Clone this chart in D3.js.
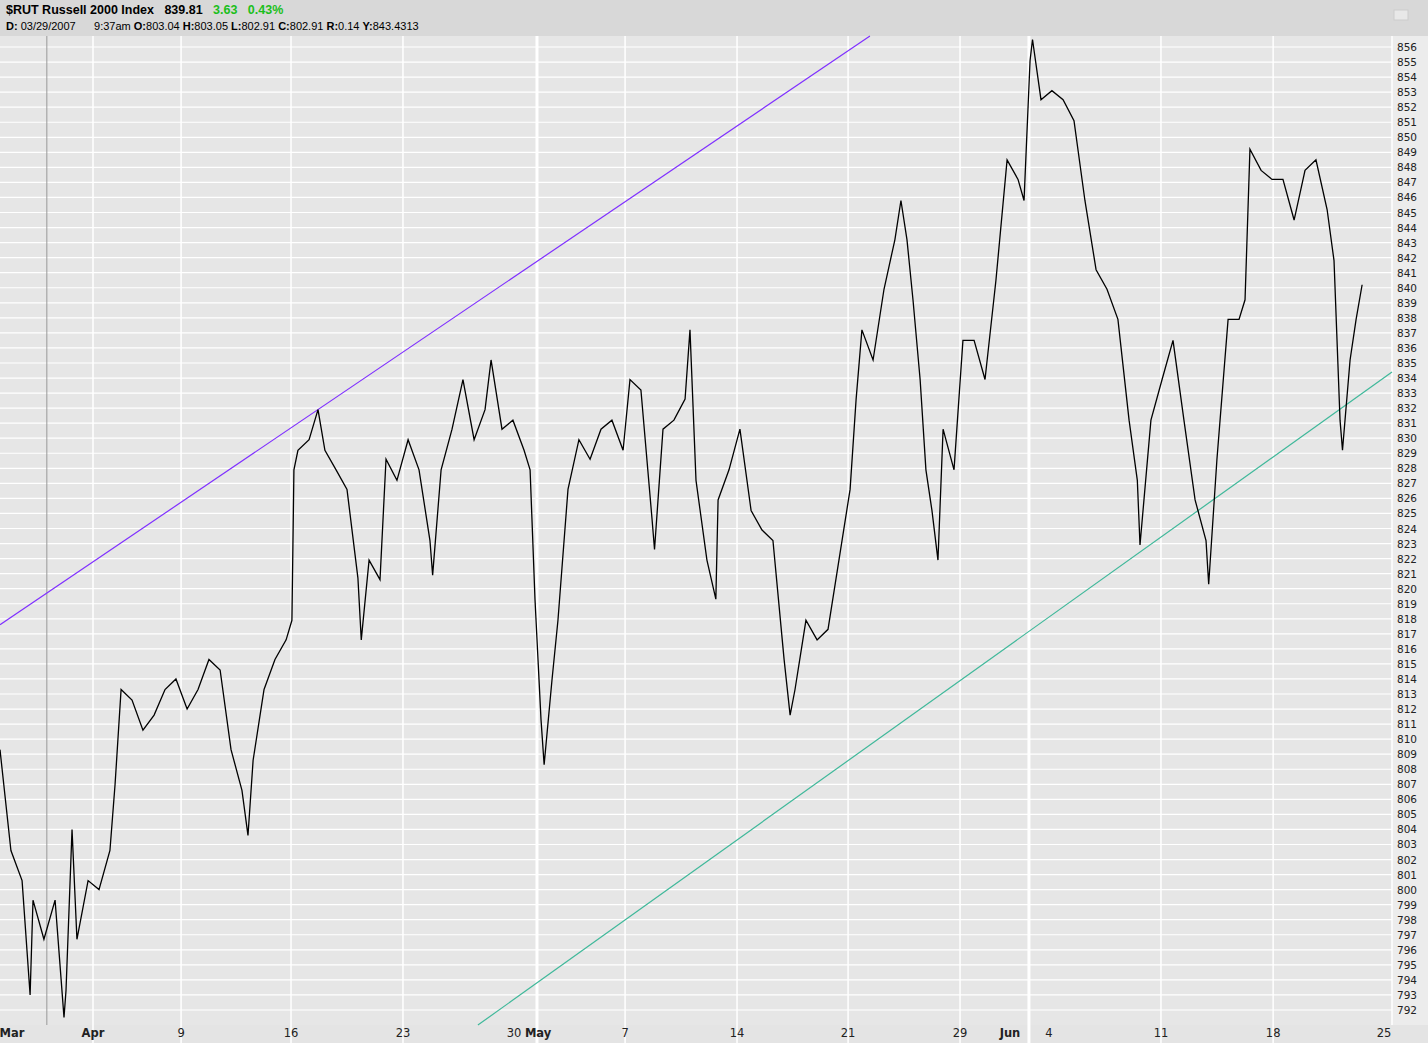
<!DOCTYPE html><html><head><meta charset="utf-8">
<script src="https://cdn.jsdelivr.net/npm/d3@7"></script>
<style>body{margin:0;background:#e6e6e6;font-family:"DejaVu Sans",Verdana,sans-serif}</style></head><body>
<svg id="c" width="1428" height="1043"></svg>
<script>
const days=[0,0.49,0.99,1.35,1.48,1.97,2.47,2.87,2.96,3.23,3.45,3.95,4.44,4.93,5.16,5.43,5.92,6.41,6.91,7.40,7.89,8.39,8.88,9.37,9.87,10.36,10.85,11.12,11.35,11.84,12.33,12.83,13.09,13.18,13.36,13.86,14.26,14.57,15.07,15.56,16.05,16.2,16.55,17.04,17.31,17.80,18.30,18.79,19.28,19.4,19.78,20.27,20.76,21.26,21.75,22.02,22.51,23.00,23.50,23.77,23.99,24.26,24.4,24.75,25.02,25.47,25.96,26.46,26.95,27.44,27.94,28.25,28.74,29.24,29.35,29.73,30.22,30.72,30.94,31.21,31.70,32.10,32.20,32.69,33.18,33.68,34.17,34.66,35.16,35.43,35.65,36.14,36.64,37.13,37.62,38.12,38.39,38.65,39.15,39.64,40.13,40.40,40.67,40.94,41.26,41.52,41.79,42.06,42.29,42.78,43.18,43.68,44.17,44.66,45.16,45.65,45.92,46.19,46.3,46.68,47.17,47.67,48.16,48.65,49.15,49.64,50.13,50.63,51.0,51.12,51.61,52.11,52.60,53.09,53.59,54.08,54.2,54.57,55.07,55.56,55.83,56.05,56.55,57.04,57.53,58.03,58.52,59.01,59.51,59.82,60.09,60.2,60.54,60.81,61.08];
const values=[809.3,802.6,800.6,793,799.3,796.7,799.3,791.5,793.3,804,796.7,800.6,800,802.6,807,813.3,812.6,810.6,811.6,813.3,814,812,813.3,815.3,814.6,809.3,806.6,803.6,808.6,813.3,815.3,816.6,817.9,827.9,829.2,829.9,831.9,829.2,827.9,826.6,820.7,816.6,821.9,820.6,828.6,827.2,829.9,827.9,823.2,820.9,827.9,830.6,833.9,829.9,831.9,835.2,830.6,831.2,829.2,827.9,819.3,811.3,808.3,813.9,817.9,826.6,829.9,828.6,830.6,831.2,829.2,833.9,833.2,824.6,822.6,830.6,831.2,832.6,837.2,827.2,821.9,819.3,825.9,827.9,830.6,825.2,823.9,823.2,815.3,811.6,813.3,817.9,816.6,817.3,821.9,826.6,832.6,837.2,835.2,839.9,843.2,845.8,843.2,839.2,833.9,827.9,825.2,821.9,830.6,827.9,836.5,836.5,833.9,840.5,848.5,847.2,845.8,855.1,856.5,852.5,853.1,852.5,851.1,845.8,841.2,839.9,837.9,831.2,827.2,822.9,831.2,833.9,836.5,831.2,825.9,823.2,820.3,828.6,837.9,837.9,839.2,849.2,847.8,847.2,847.2,844.5,847.8,848.5,845.2,841.8,831.2,829.2,835.2,837.9,840.2];
const tickLabels=["Mar","Apr","9","16","23","30","May","7","14","21","29","Jun","4","11","18","25"];
const tickDays=[0.54,4.17,8.12,13.05,18.07,23.05,24.13,28.03,33.05,38.03,43.05,45.29,47.04,52.06,57.09,62.06];
const gridDays=[4.17,8.12,13.05,18.07,24.08,28.03,33.05,38.03,43.05,46.14,52.06,57.09];
const majorGrid=[24.08,46.14];
const upperTrend=[[0,817.6],[39.01,856.73]];
const lowerTrend=[[21.43,791.0],[62.42,834.4]];
const cursorDay=2.1;

const svg=d3.select("#c");
const L=0,R=1392,T=36,B=1025;
const x=d3.scaleLinear().domain([0,62.42]).range([L,R]);
const y=d3.scaleLinear().domain([792,856]).range([1010,47]);
svg.append("rect").attr("width",1428).attr("height",1043).attr("fill","#e4e4e4");
svg.append("rect").attr("width",1428).attr("height",36).attr("fill","#d8d8d8");
svg.append("rect").attr("x",L).attr("y",T).attr("width",R-L).attr("height",B-T).attr("fill","#e6e6e6");
svg.append("rect").attr("x",R).attr("y",T).attr("width",1428-R).attr("height",B-T).attr("fill","#ececec");
const g=svg.append("g");
g.selectAll("line.h").data(d3.range(792,857)).join("line").attr("x1",L).attr("x2",R)
 .attr("y1",d=>y(d)).attr("y2",d=>y(d)).attr("stroke","#fff").attr("stroke-width",1.2);
g.selectAll("line.v").data(gridDays).join("line").attr("x1",d=>x(d)).attr("x2",d=>x(d))
 .attr("y1",T).attr("y2",B+18).attr("stroke","#fff").attr("stroke-width",d=>majorGrid.includes(d)?3:1.5);
g.append("line").attr("x1",x(cursorDay)).attr("x2",x(cursorDay)).attr("y1",T).attr("y2",B).attr("stroke","#999").attr("stroke-width",1);
svg.append("line").attr("x1",R).attr("x2",R).attr("y1",T).attr("y2",B).attr("stroke","#fff").attr("stroke-width",1.5);
svg.selectAll("text.yl").data(d3.range(792,857)).join("text").attr("x",R+5).attr("y",d=>y(d)+4)
 .attr("font-size",10.5).attr("fill","#222").text(d=>d);
svg.selectAll("text.xl").data(tickLabels).join("text").attr("x",(d,i)=>x(tickDays[i])).attr("y",1037)
 .attr("text-anchor","middle").attr("font-size",11.5).attr("font-weight",d=>/^[A-Z]/.test(d)?"bold":"normal").attr("fill","#222").text(d=>d);
const ln=d3.line().x(d=>x(d[0])).y(d=>y(d[1]));
svg.append("path").attr("d",ln(upperTrend)).attr("stroke","#7f2fff").attr("fill","none").attr("stroke-width",1.2);
svg.append("path").attr("d",ln(lowerTrend)).attr("stroke","#3fb89a").attr("fill","none").attr("stroke-width",1.2);
svg.append("path").attr("d",ln(days.map((d,i)=>[d,values[i]]))).attr("stroke","#000").attr("fill","none").attr("stroke-width",1.3);
const h=svg.append("text").attr("x",6).attr("y",14).attr("font-size",11).attr("font-weight","bold").attr("font-family","Liberation Sans, Arial, sans-serif").attr("font-size",12.5);
h.append("tspan").text("$RUT Russell 2000 Index   839.81 ");
h.append("tspan").attr("fill","#1bbf1b").text("  3.63   0.43%");
const h2=svg.append("text").attr("x",6).attr("y",30).attr("font-size",11).attr("font-family","Liberation Sans, Arial, sans-serif");
[["D:"," 03/29/2007      9:37am "],["O:","803.04 "],["H:","803.05 "],["L:","802.91 "],["C:","802.91 "],["R:","0.14 "],["Y:","843.4313"]].forEach(([a,b])=>{h2.append("tspan").attr("font-weight","bold").text(a);h2.append("tspan").attr("xml:space","preserve").text(b);});
h2.attr("style","white-space:pre");h.attr("style","white-space:pre");
svg.append("rect").attr("x",1394).attr("y",10).attr("width",14).attr("height",10).attr("fill","#e8e8e8").attr("stroke","#ccc");
</script></body></html>
